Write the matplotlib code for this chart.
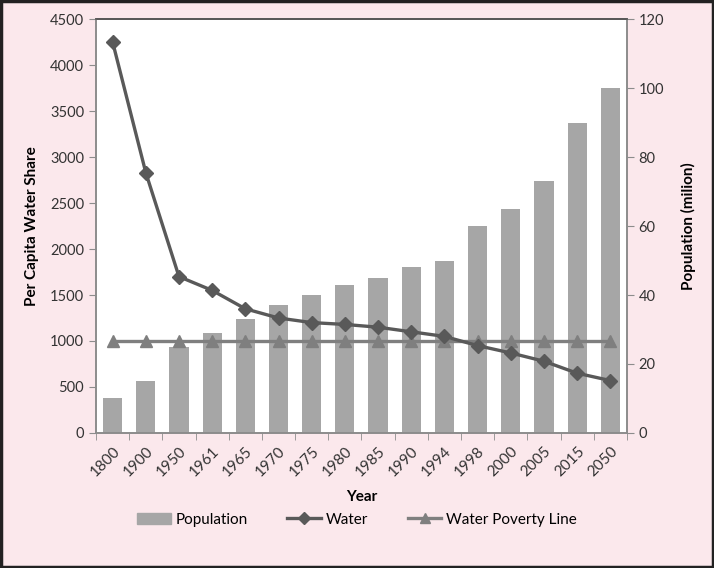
import numpy as np
import matplotlib.pyplot as plt
from matplotlib.patches import Patch, Rectangle
from matplotlib.lines import Line2D

plt.rcParams['font.family'] = ['Lato', 'DejaVu Sans']

# data
years = ['1800', '1900', '1950', '1961', '1965', '1970', '1975', '1980',
         '1985', '1990', '1994', '1998', '2000', '2005', '2015', '2050']
population = [10, 15, 25, 29, 33, 37, 40, 43, 45, 48, 50, 60, 65, 73, 90, 100]
water = [4250, 2830, 1700, 1550, 1350, 1250, 1200, 1180,
         1150, 1100, 1050, 950, 870, 780, 650, 570]
poverty_line = [1000] * 16

bg = '#fbe8ec'
bar_col = '#a6a6a6'
water_col = '#595959'
pov_col = '#7f7f7f'
axis_col = '#8c8c8c'

fig = plt.figure(figsize=(7.14, 5.68), dpi=100, facecolor=bg)
ax = fig.add_axes([0.1345, 0.2377, 0.7435, 0.7288])
ax2 = ax.twinx()

x = np.arange(len(years))

# bars on the right axis
ax2.bar(x, population, width=0.58, color=bar_col, zorder=2)
ax2.set_ylim(0, 120)
ax2.set_yticks(np.arange(0, 121, 20))
ax2.set_ylabel('Population (milion)', fontsize=11, fontweight='bold', labelpad=12)
ax2.patch.set_visible(True)
ax2.patch.set_facecolor('white')

# lines on the left axis, drawn above the bars
ax.set_zorder(ax2.get_zorder() + 1)
ax.patch.set_visible(False)
ax.plot(x, water, color=water_col, lw=2.4, marker='D', ms=7.5, zorder=4)
ax.plot(x, poverty_line, color=pov_col, lw=2.4, marker='^', ms=9, zorder=3)
ax.set_ylim(0, 4500)
ax.set_yticks(np.arange(0, 4501, 500))
ax.set_xlim(-0.5, len(years) - 0.5)
ax.set_ylabel('Per Capita Water Share', fontsize=11, fontweight='bold', labelpad=8)
ax.set_xlabel('Year', fontsize=11, fontweight='bold', labelpad=8)

# category labels centred, tick marks between categories
ax.set_xticks(x)
ax.set_xticklabels(years, rotation=45, ha='right', rotation_mode='anchor', fontsize=11)
ax.tick_params(axis='x', which='major', length=0, pad=8)
ax.set_xticks(np.arange(-0.5, len(years)), minor=True)
ax.tick_params(axis='x', which='minor', length=5, color=axis_col)

for a in (ax, ax2):
    a.tick_params(axis='y', labelsize=10.5, color=axis_col, length=5, labelcolor='#333333')
    a.tick_params(axis='x', labelcolor='#333333')
    for s in a.spines.values():
        s.set_color(axis_col)
        s.set_linewidth(1.2)
    a.spines['top'].set_color('#555555')

handles = [Patch(color=bar_col, label='Population'),
           Line2D([], [], color=water_col, lw=2.4, marker='D', ms=6, label='Water'),
           Line2D([], [], color=pov_col, lw=2.4, marker='^', ms=7, label='Water Poverty Line')]
fig.legend(handles=handles, loc='center', bbox_to_anchor=(0.5, 0.085), ncol=3,
           frameon=False, fontsize=11, handlelength=2.2, handletextpad=0.3,
           columnspacing=2.6)

# dark frame round the picture
fig.patches.append(Rectangle((0.002, 0.002), 0.996, 0.996, transform=fig.transFigure,
                             fill=False, edgecolor='#222222', lw=2.5))

fig.savefig('out.png', dpi=100, facecolor=bg)
